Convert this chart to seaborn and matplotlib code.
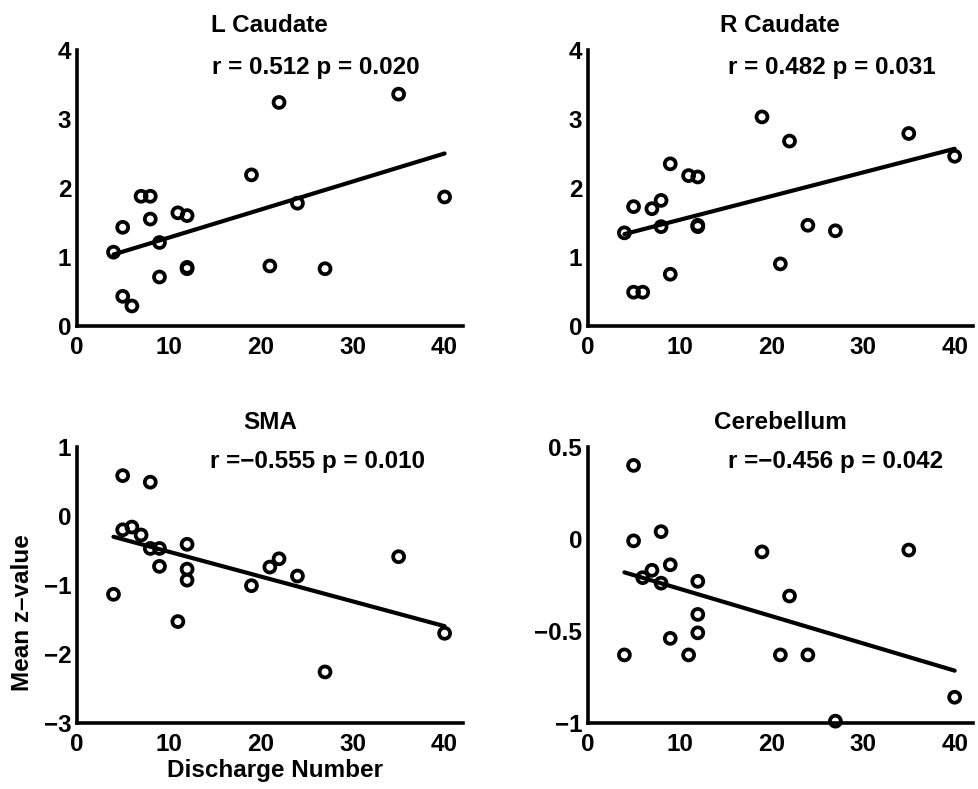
import matplotlib
matplotlib.use("Agg")
import matplotlib.pyplot as plt
import seaborn as sns
import numpy as np
import pandas as pd

# ---------------- data ----------------
discharge = [4, 5, 5, 6, 7, 8, 8, 9, 9, 11, 12, 12, 12, 19, 21, 22, 24, 27, 35, 40]
l_caudate = [1.07, 1.43, 0.43, 0.29, 1.88, 1.88, 1.55, 1.21, 0.71, 1.64, 1.60,
             0.83, 0.85, 2.19, 0.87, 3.24, 1.78, 0.83, 3.36, 1.87]
r_caudate = [1.35, 1.73, 0.49, 0.49, 1.70, 1.82, 1.44, 2.35, 0.75, 2.18, 2.16,
             1.44, 1.46, 3.03, 0.90, 2.68, 1.46, 1.38, 2.79, 2.46]
sma = [-1.135, 0.585, -0.20, -0.16, -0.275, 0.49, -0.47, -0.47, -0.73, -1.53,
       -0.41, -0.77, -0.93, -1.01, -0.74, -0.62, -0.87, -2.26, -0.59, -1.70]
cerebellum = [-0.63, 0.40, -0.01, -0.21, -0.17, 0.04, -0.24, -0.14, -0.54, -0.63,
              -0.23, -0.41, -0.51, -0.07, -0.63, -0.31, -0.63, -0.99, -0.06, -0.86]

titles = ["L Caudate", "R Caudate", "SMA", "Cerebellum"]
stats_text = ["r = 0.512 p = 0.020", "r = 0.482 p = 0.031",
              "r =\u22120.555 p = 0.010", "r =\u22120.456 p = 0.042"]
xticks = [0, 10, 20, 30, 40]
xticklabels = ["0", "10", "20", "30", "40"]
yticks = [[0, 1, 2, 3, 4], [0, 1, 2, 3, 4], [-3, -2, -1, 0, 1], [-1, -0.5, 0, 0.5]]
yticklabels = [["0", "1", "2", "3", "4"], ["0", "1", "2", "3", "4"],
               ["\u22123", "\u22122", "\u22121", "0", "1"],
               ["\u22121", "\u22120.5", "0", "0.5"]]
ylims = [(0, 4), (0, 4), (-3, 1), (-1, 0.5)]
xlabel = "Discharge Number"
ylabel = "Mean z\u2013value"

df = pd.DataFrame({"Discharge": discharge, "L Caudate": l_caudate,
                   "R Caudate": r_caudate, "SMA": sma, "Cerebellum": cerebellum})

# ---------------- style ----------------
sns.set_theme(style="white")
plt.rcParams["font.family"] = ["Liberation Sans", "DejaVu Sans"]
plt.rcParams["font.weight"] = "bold"
plt.rcParams["axes.unicode_minus"] = True
plt.rcParams["text.color"] = "black"
plt.rcParams["axes.labelcolor"] = "black"
plt.rcParams["xtick.color"] = "black"
plt.rcParams["ytick.color"] = "black"
plt.rcParams["axes.titlecolor"] = "black"

W, H = 979, 789
fig = plt.figure(figsize=(W / 100, H / 100), dpi=100)
fig.patch.set_facecolor("white")

# axes rectangles in pixels: left, top, right, bottom
rects = [(76.7, 50, 463, 326), (587.7, 50, 973, 326),
         (76.7, 447, 463, 723), (587.7, 447, 973, 723)]
text_pos = [(0.350, 0.935), (0.364, 0.935), (0.345, 0.946), (0.364, 0.946)]

FS = 17.5
for i, (name, rect) in enumerate(zip(titles, rects)):
    l, t, r, b = rect
    ax = fig.add_axes([l / W, 1 - b / H, (r - l) / W, (b - t) / H])
    sns.regplot(data=df, x="Discharge", y=name, ax=ax, ci=None, truncate=True,
                scatter_kws=dict(s=62, facecolors="none", edgecolors="black",
                                 linewidths=2.7, alpha=1, zorder=3, clip_on=False),
                line_kws=dict(color="black", linewidth=3.0, zorder=4))
    ax.set_xlim(0, 42)
    ax.set_ylim(*ylims[i])
    ax.set_xticks(xticks)
    ax.set_xticklabels(xticklabels)
    ax.set_yticks(yticks[i])
    ax.set_yticklabels(yticklabels[i])
    ax.set_xlabel("")
    ax.set_ylabel("")
    for s in ["top", "right"]:
        ax.spines[s].set_visible(False)
    for s in ["left", "bottom"]:
        ax.spines[s].set_linewidth(2.6)
        ax.spines[s].set_color("black")
        ax.spines[s].set_capstyle("projecting")
    ax.tick_params(axis="both", direction="in", length=3, width=2,
                   color="black", labelsize=FS, labelcolor="black")
    ax.tick_params(axis="x", pad=7)
    ax.tick_params(axis="y", pad=4)
    for lab in ax.get_xticklabels() + ax.get_yticklabels():
        lab.set_fontweight("bold")
        lab.set_color("black")
    ax.set_title(name, fontsize=FS, fontweight="bold", pad=13, color="black")
    ax.text(text_pos[i][0], text_pos[i][1], stats_text[i], transform=ax.transAxes,
            ha="left", va="center", fontsize=FS, fontweight="bold", color="black")
    ax.set_facecolor("white")

fig.text(275 / W, 1 - 771 / H, xlabel, ha="center", va="center",
         fontsize=FS, fontweight="bold", color="black")
fig.text(23 / W, 1 - 613 / H, ylabel, ha="center", va="center", rotation=90,
         fontsize=FS, fontweight="bold", color="black")

fig.savefig("out.png", dpi=100, facecolor="white")
